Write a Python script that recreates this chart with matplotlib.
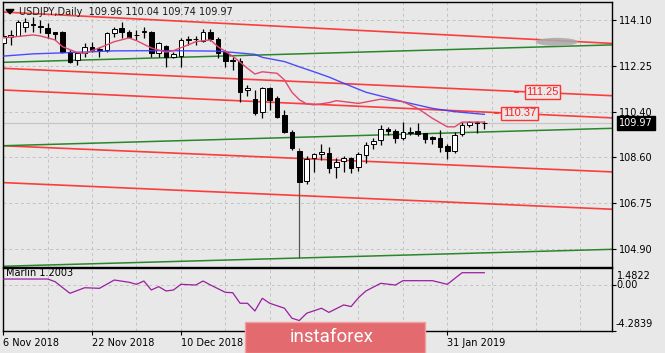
import matplotlib
matplotlib.use("Agg")
import matplotlib.pyplot as plt
from matplotlib.patches import Rectangle, Ellipse, Polygon

### USDJPY daily candles, bar 0 = 6 Nov 2018
opens = [113.18, 113.42, 113.47, 113.83, 113.92, 113.86, 113.77, 113.60, 113.60, 112.83,
         112.50, 112.79, 113.03, 112.88, 112.90, 113.57, 113.77, 113.63, 113.50, 113.62,
         113.63, 112.76, 113.05, 112.62, 112.65, 113.30, 113.33, 113.25, 113.63, 113.34,
         112.83, 112.50, 112.45, 111.30, 110.93, 110.39, 111.38, 110.98, 110.28, 109.61,
         108.85, 107.63, 108.55, 108.72, 108.75, 108.18, 108.45, 108.55, 108.18, 108.68,
         109.11, 109.28, 109.72, 109.65, 109.35, 109.58, 109.65, 109.55, 109.39, 109.35,
         109.04, 108.85, 109.51, 109.88, 109.99, 109.96]
highs = [113.58, 113.70, 114.10, 114.17, 114.23, 114.10, 113.97, 113.63, 113.65, 112.90,
         112.83, 113.16, 113.23, 113.03, 113.63, 113.83, 114.03, 113.70, 113.70, 113.83,
         113.66, 113.23, 113.10, 112.83, 113.37, 113.47, 113.45, 113.75, 113.75, 113.40,
         112.90, 112.63, 112.56, 111.50, 111.29, 111.42, 111.42, 111.05, 110.49, 109.70,
         108.95, 108.65, 108.77, 109.12, 108.99, 108.55, 108.62, 108.58, 108.80, 109.21,
         109.35, 109.88, 109.80, 109.71, 110.02, 109.80, 109.95, 109.58, 109.45, 109.70,
         109.10, 109.61, 110.02, 110.05, 110.04, 110.04]
lows = [113.10, 113.10, 113.45, 113.63, 113.63, 113.58, 113.37, 113.30, 112.76, 112.36,
        112.29, 112.63, 112.83, 112.63, 112.83, 113.43, 113.37, 113.37, 113.30, 113.37,
        112.63, 112.63, 112.22, 112.56, 112.22, 113.10, 113.10, 113.20, 113.25, 112.56,
        112.22, 112.09, 110.82, 111.05, 110.28, 110.15, 110.49, 110.15, 109.58, 108.88,
        104.53, 107.50, 108.00, 108.48, 107.94, 107.74, 108.00, 107.97, 108.05, 108.35,
        108.90, 109.08, 109.50, 109.15, 109.30, 109.48, 109.44, 109.15, 109.10, 108.81,
        108.50, 108.75, 109.45, 109.80, 109.55, 109.74]
closes = [113.46, 113.50, 114.03, 114.03, 113.88, 113.82, 113.57, 113.55, 112.83, 112.43,
          112.76, 113.03, 112.90, 112.92, 113.57, 113.73, 113.63, 113.43, 113.48, 113.65,
          112.76, 113.19, 112.62, 112.72, 113.30, 113.34, 113.35, 113.63, 113.32, 112.77,
          112.45, 112.47, 111.22, 111.35, 110.35, 111.36, 110.89, 110.22, 109.61, 108.95,
          107.61, 108.50, 108.72, 108.78, 108.14, 108.41, 108.55, 108.14, 108.72, 109.08,
          109.25, 109.72, 109.64, 109.35, 109.59, 109.60, 109.52, 109.32, 109.31, 109.01,
          108.85, 109.48, 109.88, 109.99, 109.98, 109.97]

### moving averages (bar index, price)
ma_fast_bar = [0, 4, 5, 7, 8, 10, 11, 13, 15, 17, 18, 20, 22, 23, 25, 26, 28, 29, 31, 33,
               34, 35, 37, 38, 39, 40, 41, 42, 44, 45, 48, 51, 54, 56, 58, 60, 61, 62, 65]
ma_fast_val = [113.38, 113.50, 113.46, 113.30, 113.03, 112.79, 112.76, 112.98, 113.23, 113.38,
               113.27, 112.98, 112.81, 112.87, 113.10, 113.23, 113.30, 113.03, 112.65, 112.16,
               111.93, 112.02, 111.96, 111.69, 111.20, 110.90, 110.73, 110.69, 110.78, 110.86,
               110.75, 110.92, 110.82, 110.55, 110.15, 109.81, 109.81, 110.00, 110.00]
ma_slow_bar = [0, 4, 8, 15, 22, 29, 31, 34, 35, 38, 40, 42, 44, 46, 49, 54, 58, 61, 65]
ma_slow_val = [112.65, 112.74, 112.78, 112.86, 112.87, 112.85, 112.80, 112.72, 112.60, 112.43,
               112.22, 112.02, 111.81, 111.56, 111.20, 110.82, 110.55, 110.42, 110.31]

### channel lines: price at left edge, price at right edge
red_lines = [(114.42, 113.16), (112.16, 111.06), (111.29, 110.17), (109.05, 108.00), (107.57, 106.50)]
green_lines = [(112.40, 113.10), (109.05, 109.75), (104.21, 104.89)]

### Marlin oscillator (bar index, value)
marlin_bar = [0, 6, 7, 9, 11, 13, 15, 17, 18, 19, 20, 21, 22, 23, 24, 26, 27, 28, 30, 31,
              32, 33, 34, 35, 36, 38, 39, 40, 41, 43, 44, 46, 47, 48, 49, 51, 53, 54, 56, 58,
              60, 62, 65]
marlin_val = [0.72, 0.72, 0.40, -1.00, -0.33, -0.40, 0.60, 0.33, 0.08, 0.48, -0.60, -0.20,
              -0.72, -0.60, 0.08, 0.00, 0.48, 0.00, -0.88, -0.93, -2.20, -2.20, -3.13, -1.60,
              -2.20, -2.80, -4.00, -4.28, -3.40, -2.80, -3.30, -2.40, -2.60, -1.53, -0.72,
              0.20, 0.00, 0.52, 0.52, 0.52, 0.08, 1.48, 1.48]

price_ticks = [114.10, 112.25, 110.40, 108.60, 106.75, 104.90]
date_bars = [0, 12, 24, 60]
date_labels = ["6 Nov 2018", "22 Nov 2018", "10 Dec 2018", "31 Jan 2019"]
last_price = 109.97
level_labels = [("111.25", 111.21, 72.86, 69.15), ("110.37", 110.35, 69.76, 66.4)]

W, H = 665, 353
BG = "#e8e8e8"
GRID = "#c2c2c2"


def fx(x):
    return x / W


def fy(y):
    return 1 - y / H


fig = plt.figure(figsize=(W / 100, H / 100), dpi=100, facecolor=BG)
ax = fig.add_axes([fx(3), fy(266.7), (612 - 3) / W, (266.7 - 2) / H], facecolor=BG)
ax2 = fig.add_axes([fx(3), fy(330.7), (612 - 3) / W, (330.7 - 268.3) / H], facecolor=BG)

xl = (-0.04, 82.26)
for a in (ax, ax2):
    a.set_xlim(*xl)
    for s in a.spines.values():
        s.set_color("black")
        s.set_linewidth(1)
    for b in range(0, 83, 6):
        a.axvline(b, color=GRID, lw=0.7, ls=(0, (3, 3)), zorder=0)

ax.set_ylim(104.192, 114.823)
ax2.set_ylim(-5.506, 2.012)

### price grid
for p in price_ticks:
    ax.axhline(p, color=GRID, lw=0.7, ls=(0, (3, 3)), zorder=0)
ax2.axhline(0, color=GRID, lw=0.7, ls=(0, (3, 3)), zorder=0)

### current price line
ax.axhline(last_price, color="#c6c6c6", lw=0.9, zorder=1)

### channel lines
for l, r in red_lines:
    ax.plot(xl, [l, r], color="#ff2a2a", lw=1.2, alpha=0.9, zorder=2)
for l, r in green_lines:
    ax.plot(xl, [l, r], color="#2a862a", lw=1.1, zorder=2)

### gray blob near top line
ax.add_patch(Ellipse((74.8, 113.22), 5.7, 0.33, color="#a9a9a9", alpha=0.85, lw=0, zorder=2))

### candles
for i in range(len(opens)):
    o, h, l, c = opens[i], highs[i], lows[i], closes[i]
    wick_col = "#555555" if i == 40 else "black"
    ax.vlines(i, l, h, color=wick_col, lw=0.9, zorder=3)
    lo, hi = min(o, c), max(o, c)
    fc = "white" if c >= o else "black"
    ax.add_patch(Rectangle((i - 0.3, lo), 0.6, max(hi - lo, 0.015), facecolor=fc,
                           edgecolor="black", lw=0.7, zorder=4))

### moving averages
ax.plot(ma_slow_bar, ma_slow_val, color="#3a3aff", lw=1.0, alpha=0.9, zorder=5)
ax.plot(ma_fast_bar, ma_fast_val, color="#e0486e", lw=1.0, zorder=5)

### price level labels
for txt, p, xc, xd in level_labels:
    ax.plot([xd, xd + 0.4], [p, p], color="#ff2a2a", lw=1.2, zorder=6)
    ax.text(xc, p, txt, color="#ff2020", fontsize=8, family="Liberation Sans",
            ha="center", va="center", zorder=7,
            bbox=dict(boxstyle="square,pad=0.15", fc=BG, ec="#ff3030", lw=1.0))

### right price axis
ax.yaxis.tick_right()
ax.set_yticks(price_ticks)
ax.set_yticklabels(["%.2f" % p for p in price_ticks])
ax.tick_params(axis="y", length=3, width=0.8, pad=2, labelsize=7, colors="black")
ax.set_xticks([])

### indicator
ax2.plot(marlin_bar, marlin_val, color="#9a1ea0", lw=0.9, zorder=3)
ax2.set_yticks([0, -5.506])
ax2.set_yticklabels(["", ""])
ax2.yaxis.tick_right()
ax2.tick_params(axis="y", length=3, width=0.8, pad=2)
ax2.set_xticks(date_bars)
ax2.set_xticklabels(date_labels, ha="left")
ax2.tick_params(axis="x", length=3, width=0.8, pad=2, labelsize=7)
ax2.text(0.4, 1.48, "Marlin 1.2003", fontsize=7, va="center", ha="left", zorder=2)
fig.text(fx(616.5), fy(276), "1.4822", fontsize=7, va="center", ha="left")
fig.text(fx(616.5), fy(285.5), "0.00", fontsize=7, va="center", ha="left")
fig.text(fx(616), fy(324), "-4.2839", fontsize=7, va="center", ha="left")

### header
fig.patches.append(Polygon([[fx(6), fy(9.5)], [fx(14), fy(9.5)], [fx(10), fy(13.8)]],
                           closed=True, color="black", transform=fig.transFigure))
fig.text(fx(19), fy(12), "USDJPY,Daily  109.96 110.04 109.74 109.97", fontsize=7,
         va="center", ha="left", color="#1a1a1a")

### current price marker
fig.text(fx(636), fy(123), "%.2f" % last_price, fontsize=7, color="white", va="center",
         ha="center", zorder=10,
         bbox=dict(boxstyle="square,pad=0.25", fc="black", ec="black"))

### watermark
fig.patches.append(Rectangle((fx(245), 0), (425 - 245) / W, (353 - 322) / H, facecolor="#e36a6e",
                             edgecolor="#f0a0a0", lw=1, transform=fig.transFigure, zorder=20))
fig.text(fx(290), fy(337), "instaforex", fontsize=13.5, color="white", family="Roboto",
         va="center", ha="left", zorder=21)

fig.savefig("out.png", dpi=100, facecolor=BG)
